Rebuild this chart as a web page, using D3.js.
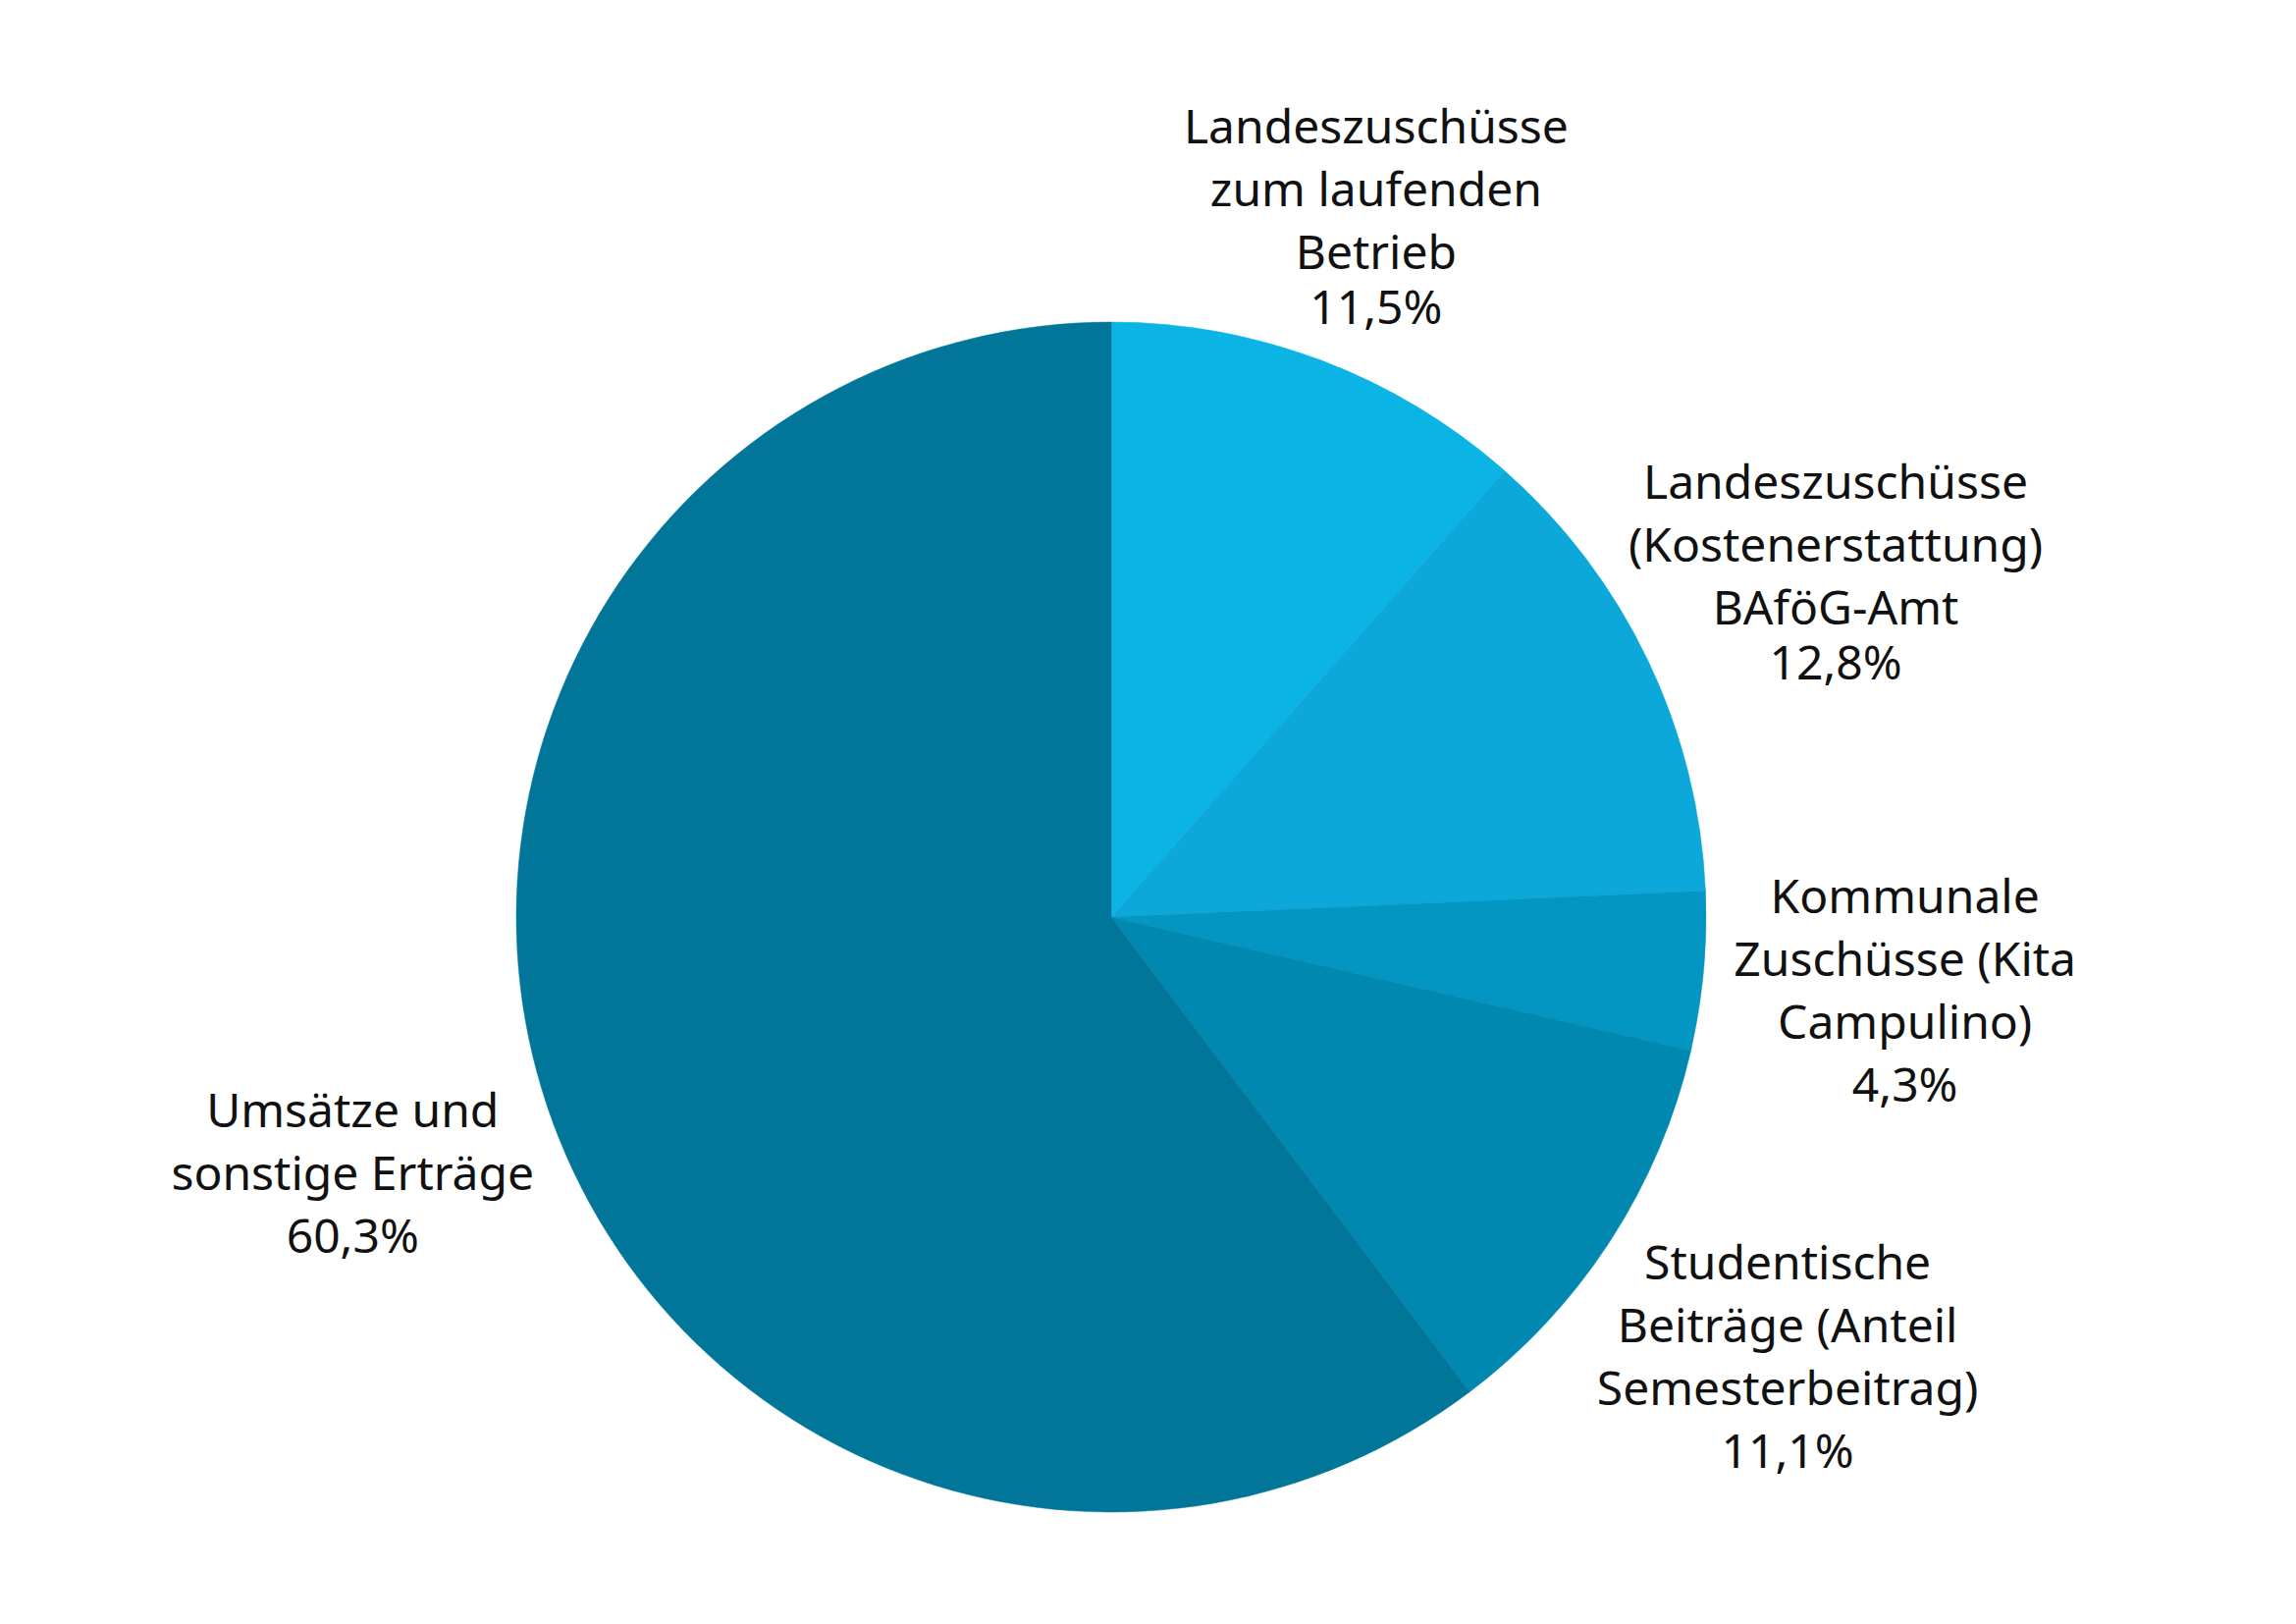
<!DOCTYPE html>
<html>
<head>
<meta charset="utf-8">
<script src="https://cdn.jsdelivr.net/npm/d3@7"></script>
<style>
  body { margin: 0; background: #fff; }
</style>
</head>
<body>
<div class="pieChart"></div>
<script>
// data, clockwise from 12 o'clock
const names = [
  ["Landeszuschüsse", "zum laufenden", "Betrieb"],
  ["Landeszuschüsse", "(Kostenerstattung)", "BAföG-Amt"],
  ["Kommunale", "Zuschüsse (Kita", "Campulino)"],
  ["Studentische", "Beiträge (Anteil", "Semesterbeitrag)"],
  ["Umsätze und", "sonstige Erträge"]
];
const shares = [11.5, 12.8, 4.3, 11.1, 60.3];
const colors = ["#0ab4e4", "#0ba8d9", "#0496c3", "#0188b1", "#017699"];

const width = 2339;
const height = 1654;
const cx = 1132, cy = 934, radius = 606;

// label distance from center, as a multiple of the radius
const labelFactor = [1.26, 1.35, 1.34, 1.355, 1.345];
const fontSize = 48;
const lineStep = 64;

const pie = d3.pie().sort(null).value((d) => d.value);
const arc = d3.arc().innerRadius(0).outerRadius(radius);

const data = shares.map((v, i) => ({ name: names[i], value: v, i }));
const arcs = pie(data);

const svg = d3
  .select(".pieChart")
  .append("svg")
  .attr("width", width)
  .attr("height", height)
  .attr("style", "display:block; font-family: 'Noto Sans', sans-serif;");

const g = svg.append("g").attr("transform", `translate(${cx},${cy})`);

// slices
g.append("g")
  .selectAll("path")
  .data(arcs)
  .join("path")
  .attr("fill", (d) => colors[d.data.i])
  .attr("stroke", (d) => colors[d.data.i])
  .attr("stroke-width", 0.5)
  .attr("d", arc);

// labels
const fmt = (v) => v.toFixed(1).replace(".", ",") + "%";

g.append("g")
  .attr("text-anchor", "middle")
  .attr("font-size", fontSize)
  .attr("fill", "#111")
  .selectAll("text")
  .data(arcs)
  .join("text")
  .each(function (d) {
    const r = radius * labelFactor[d.data.i];
    const [x, y] = d3.arc().innerRadius(r).outerRadius(r).centroid(d);
    const lines = d.data.name.concat([fmt(d.data.value)]);
    // the percentage sits a bit closer on the two upper labels
    const lastStep = d.data.i < 2 ? 56 : lineStep;
    const ys = lines.map((_, k) => k * lineStep - (k === lines.length - 1 ? lineStep - lastStep : 0));
    const mid = (ys[0] + ys[ys.length - 1]) / 2;
    const t = d3.select(this);
    lines.forEach((ln, k) => {
      t.append("tspan")
        .attr("x", x)
        .attr("y", y + ys[k] - mid)
        .attr("dominant-baseline", "central")
        .text(ln);
    });
  });
</script>
</body>
</html>
